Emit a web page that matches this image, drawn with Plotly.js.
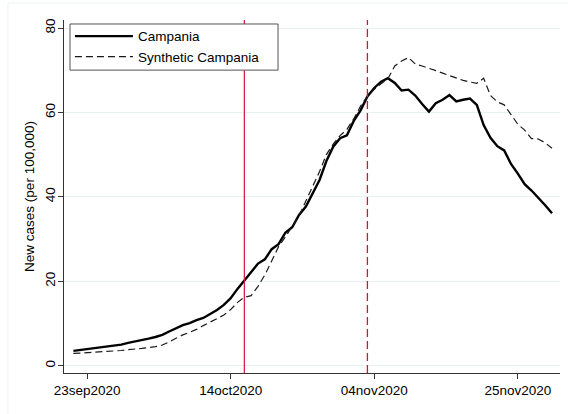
<!DOCTYPE html>
<html>
<head>
<meta charset="utf-8">
<script src="https://cdn.plot.ly/plotly-3.0.1.min.js"></script>
<style>html,body{margin:0;padding:0;background:#fff;}#chart{width:568px;height:414px;}</style>
</head>
<body>
<div id="chart"></div>
<script>
var dates = [
 "2020-09-21","2020-09-22","2020-09-23","2020-09-24","2020-09-25","2020-09-26","2020-09-27","2020-09-28","2020-09-29","2020-09-30",
 "2020-10-01","2020-10-02","2020-10-03","2020-10-04","2020-10-05","2020-10-06","2020-10-07","2020-10-08","2020-10-09","2020-10-10",
 "2020-10-11","2020-10-12","2020-10-13","2020-10-14","2020-10-15","2020-10-16","2020-10-17","2020-10-18","2020-10-19","2020-10-20",
 "2020-10-21","2020-10-22","2020-10-23","2020-10-24","2020-10-25","2020-10-26","2020-10-27","2020-10-28","2020-10-29","2020-10-30",
 "2020-10-31","2020-11-01","2020-11-02","2020-11-03","2020-11-04","2020-11-05","2020-11-06","2020-11-07","2020-11-08","2020-11-09",
 "2020-11-10","2020-11-11","2020-11-12","2020-11-13","2020-11-14","2020-11-15","2020-11-16","2020-11-17","2020-11-18","2020-11-19",
 "2020-11-20","2020-11-21","2020-11-22","2020-11-23","2020-11-24","2020-11-25","2020-11-26","2020-11-27","2020-11-28","2020-11-29",
 "2020-11-30"
];
var campania = [
 3.5,3.7,3.9,4.1,4.3,4.5,4.7,5.0,5.4,5.7,
 6.0,6.4,6.8,7.3,8.1,8.9,9.6,10.1,10.8,11.3,
 12.2,13.2,14.4,16.0,18.2,20.2,22.3,24.2,25.2,27.6,
 28.8,31.5,32.8,35.7,37.7,41.0,44.0,48.5,51.9,53.9,
 54.6,58.0,60.5,63.8,65.8,67.3,68.1,67.0,65.2,65.4,
 64.0,62.0,60.2,62.2,63.0,64.1,62.6,63.0,63.3,61.8,
 57.0,54.0,52.0,51.0,47.8,45.5,43.0,41.5,39.8,38.0,
 36.1
];
var synthetic = [
 2.9,3.0,3.1,3.15,3.2,3.25,3.4,3.6,3.8,3.9,
 4.1,4.3,4.5,4.9,5.6,6.5,7.3,7.9,8.6,9.5,
 10.4,11.2,12.0,13.3,15.0,16.2,16.6,18.8,21.5,24.8,
 28.2,30.5,33.0,35.5,39.0,42.5,46.0,50.0,52.5,54.5,
 56.0,58.5,61.5,63.8,65.5,66.8,68.0,71.0,72.2,73.0,
 71.5,71.0,70.5,69.9,69.3,68.7,68.1,67.6,67.2,66.9,
 68.1,64.0,62.5,61.8,59.5,57.2,55.8,53.8,53.7,52.8,
 51.5
];
var seriesNames = ["Campania", "Synthetic Campania"];
var xTickVals = ["2020-09-23","2020-10-14","2020-11-04","2020-11-25"];
var xTickText = ["23sep2020","14oct2020","04nov2020","25nov2020"];
var yTickVals = [0,20,40,60,80];
var yTickText = ["0","20","40","60","80"];
var interventionDates = ["2020-10-16","2020-11-03"];
var yTitle = "New cases (per 100,000)";

var FONT = "Liberation Sans, Arial, Helvetica, sans-serif";

var traces = [
 {x: dates, y: campania, name: seriesNames[0], type: "scatter", mode: "lines",
  line: {color: "#000000", width: 2.4}},
 {x: dates, y: synthetic, name: seriesNames[1], type: "scatter", mode: "lines",
  line: {color: "#1a1a1a", width: 1.2, dash: "7px,4px"}}
];

var layout = {
 width: 568, height: 414,
 margin: {l: 64, r: 8, t: 20, b: 41},
 paper_bgcolor: "#ffffff", plot_bgcolor: "#ffffff",
 font: {family: FONT, size: 13.5, color: "#000000"},
 showlegend: true,
 legend: {x: 0.012, y: 0.9975, xanchor: "left", yanchor: "top",
  bgcolor: "rgba(0,0,0,0)", borderwidth: 0,
  font: {family: FONT, size: 13.5, color: "#000000"},
  itemwidth: 58, tracegroupgap: 0},
 xaxis: {type: "date", range: ["2020-09-19 15:00", "2020-12-01 04:00"],
  tickmode: "array", tickvals: xTickVals, ticktext: xTickText,
  showgrid: false, zeroline: false, showline: true, linecolor: "#333333", linewidth: 1,
  ticks: "outside", ticklen: 5, tickcolor: "#333333", tickwidth: 1,
  tickfont: {family: FONT, size: 13.5, color: "#000000"}},
 yaxis: {range: [-1.73, 81.9], tickmode: "array", tickvals: yTickVals, ticktext: yTickText,
  tickangle: -90, ticklabelstandoff: -2,
  showgrid: true, gridcolor: "#e8f0f2", gridwidth: 1, zeroline: false,
  showline: true, linecolor: "#333333", linewidth: 1,
  ticks: "outside", ticklen: 5, tickcolor: "#333333", tickwidth: 1,
  tickfont: {family: FONT, size: 13.5, color: "#000000"},
  title: {text: yTitle, font: {family: FONT, size: 13.5, color: "#000000"}, standoff: 4}},
 shapes: [
  {type: "line", xref: "x", yref: "paper", x0: interventionDates[0], x1: interventionDates[0], y0: 0, y1: 1,
   line: {color: "#d41437", width: 1.2}},
  {type: "line", xref: "x", yref: "paper", x0: interventionDates[1], x1: interventionDates[1], y0: 0, y1: 1,
   line: {color: "#d41437", width: 1.3, dash: "8px,4px"}},
  {type: "rect", xref: "paper", yref: "paper", x0: 0.0121, x1: 0.4315, y0: 0.858, y1: 0.9887,
   fillcolor: "#ffffff", line: {color: "#555555", width: 1}, layer: "above"},
  {type: "line", xref: "paper", yref: "paper", x0: -0.113, x1: -0.113, y0: -0.2, y1: 1.048,
   line: {color: "#eef3f4", width: 1}},
  {type: "line", xref: "paper", yref: "paper", x0: -0.113, x1: 1.02, y0: 1.048, y1: 1.048,
   line: {color: "#eef3f4", width: 1}}
 ]
};

Plotly.newPlot("chart", traces, layout, {displayModeBar: false, staticPlot: true});
</script>
</body>
</html>
